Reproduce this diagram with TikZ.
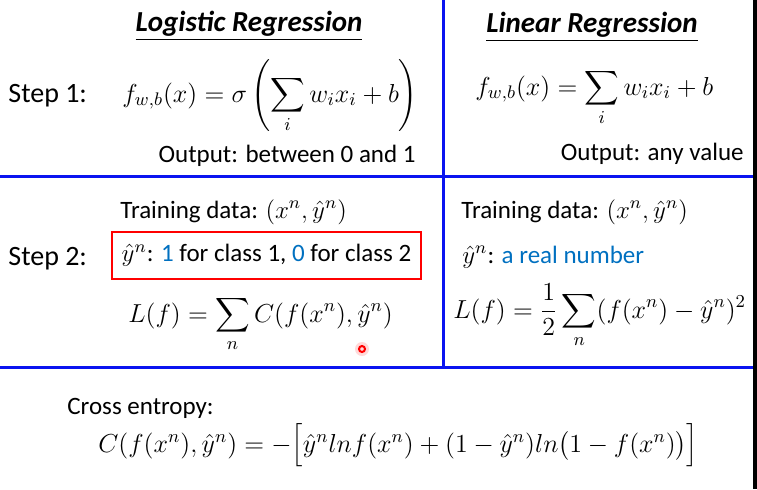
\RequirePackage{fix-cm}
\documentclass[tikz,border=0pt]{standalone}
\usepackage{amsmath}
\usepackage{fontspec}
\setmainfont{Carlito}
\definecolor{linkblue}{RGB}{0,112,192}
\definecolor{gridblue}{RGB}{10,20,240}

\begin{document}
\begin{tikzpicture}[x=0.5pt,y=-0.5pt,
  sep/.style={gridblue,line width=1.5pt},
  txt/.style={inner sep=0pt,font=\fontsize{12.5}{14}\selectfont},
  steplabel/.style={inner sep=0pt,font=\fontsize{14}{16}\selectfont},
  head/.style={inner sep=0pt,font=\fontsize{14.5}{16}\selectfont\bfseries\itshape},
  eq/.style={inner sep=0pt,font=\fontsize{13}{15}\selectfont}]
  \useasboundingbox (0,0) rectangle (757,489);
  \fill (753,0) rectangle (757,489);
  \draw[sep] (0,176.5) -- (753,176.5);
  \draw[sep] (0,367) -- (753,367);
  \draw[sep] (443.5,0) -- (443.5,367);
  % step 1
  \node[head,anchor=base] (title1) at (249,31) {\underline{Logistic Regression}};
  \node[head,anchor=base] (title2) at (592,32) {\underline{Linear Regression}};
  \node[steplabel,anchor=base west] (step1) at (8,102) {Step 1:};
  \node[eq,anchor=base west] (f1) at (122,102)
    {$\displaystyle f_{w,b}(x)=\sigma\left(\sum_i w_ix_i+b\right)$};
  \node[txt,anchor=base east] (out1) at (416,162) {Output: between 0 and 1};
  \node[eq,anchor=base west] (f2) at (475,95)
    {$\displaystyle f_{w,b}(x)=\sum_i w_ix_i+b$};
  \node[txt,anchor=base east] (out2) at (744,160) {Output: any value};
  % step 2
  \node[steplabel,anchor=base west] (step2) at (8,265) {Step 2:};
  \node[txt,anchor=base west] (data1) at (120,218) {Training data: $(x^n,\hat{y}^n)$};
  \node[txt,draw=red,line width=1.2pt,minimum width=154.5pt,minimum height=23.5pt]
    (label1) at (266.5,255.5)
    {$\hat{y}^n$: \textcolor{linkblue}{1} for class 1, \textcolor{linkblue}{0} for class 2};
  \node[eq,anchor=base west] (loss1) at (128,322)
    {$\displaystyle L(f)=\sum_n C(f(x^n),\hat{y}^n)$};
  \node[txt,anchor=base west] (data2) at (461,218) {Training data: $(x^n,\hat{y}^n)$};
  \node[txt,anchor=base west] (label2) at (462,263)
    {$\hat{y}^n$: \textcolor{linkblue}{a real number}};
  \node[eq,anchor=base west] (loss2) at (453,318)
    {$\displaystyle L(f)=\frac{1}{2}\sum_n(f(x^n)-\hat{y}^n)^2$};
  % cross entropy
  \node[txt,anchor=base west] (ce) at (67,414) {Cross entropy:};
  \node[eq,anchor=base west] (cef) at (98,452)
    {$C(f(x^n),\hat{y}^n)=-\Bigl[\hat{y}^n ln f(x^n)+(1-\hat{y}^n)ln\bigl(1-f(x^n)\bigr)\Bigr]$};
  % pointer
  \fill[red!15] (362,349) circle (7);
  \draw[red,line width=1pt] (362,349) circle (3);
\end{tikzpicture}
\end{document}
